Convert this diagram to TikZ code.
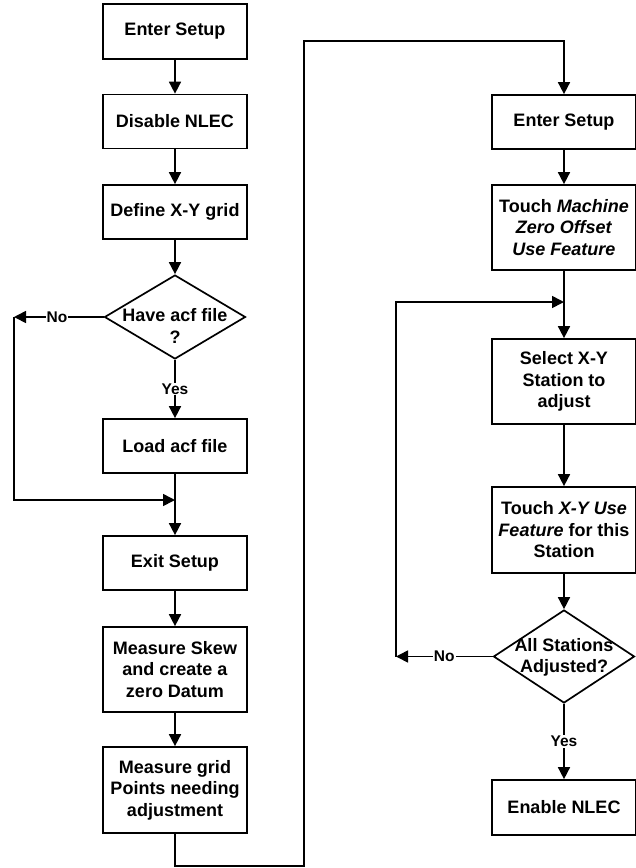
\documentclass[tikz,border=0pt]{standalone}
\usepackage{fontspec}
\setmainfont{Liberation Sans}
\usetikzlibrary{arrows.meta,shapes.geometric}
\begin{document}
\begin{tikzpicture}[x=1pt,y=-1pt,
 box/.style={draw,line width=1.7pt,minimum width=144pt,align=center,inner sep=0pt,font=\fontsize{18}{21.5}\selectfont\bfseries},
 dia/.style={draw,diamond,line width=1.7pt,inner sep=0pt,minimum width=141pt},
 dtext/.style={align=center,inner sep=0pt,font=\fontsize{18}{21.5}\selectfont\bfseries},
 flow/.style={line width=1.6pt,-{Triangle[width=12pt,length=12pt]}},
 conn/.style={line width=1.6pt},
 lbl/.style={fill=white,inner sep=1pt,font=\fontsize{15.5}{17}\selectfont\bfseries}]
\useasboundingbox (0,0) rectangle (636,868);
% left column
\node[box,minimum height=55pt] (e1) at (175,31.5) {Enter Setup};
\node[box,minimum height=54pt] (d1) at (175,121.5) {Disable NLEC};
\node[box,minimum height=54pt] (g1) at (175,212) {Define X-Y grid};
\node[dia,minimum height=84pt] (q1) at (175,317) {};
\node[dtext] (q1t) at (175,326) {Have acf file\\?};
\node[box,minimum height=54pt] (l1) at (175,446) {Load acf file};
\node[box,minimum height=54pt] (x1) at (175,563) {Exit Setup};
\node[box,minimum height=85pt] (m1) at (175,669.5) {Measure Skew\\and create a\\zero Datum};
\node[box,minimum height=86pt] (m2) at (175,790) {Measure grid\\Points needing\\adjustment};
% right column
\node[box,minimum height=54pt] (e2) at (564,122) {Enter Setup};
\node[box,minimum height=85pt] (t1) at (564,227.5) {Touch \textit{Machine}\\\textit{Zero Offset}\\\textit{Use Feature}};
\node[box,minimum height=85pt] (s1) at (564,381.5) {Select X-Y\\Station to\\adjust};
\node[box,minimum height=86pt] (t2) at (564,530) {Touch \textit{X-Y Use}\\\textit{Feature} for this\\Station};
\node[dia,minimum height=93pt] (q2) at (564,656.5) {};
\node[dtext] (q2t) at (564,657.5) {All Stations\\Adjusted?};
\node[box,minimum height=55pt] (en) at (564,807.5) {Enable NLEC};
% coordinates
\coordinate (n1) at (14,317);
\coordinate (j1) at (175,500);
\coordinate (n2) at (396,656.5);
\coordinate (j2) at (564,302);
\coordinate (b1) at (175,866);
\coordinate (b2) at (304,866);
\coordinate (b3) at (304,41);
\coordinate (b4) at (564,41);
% left connectors
\draw[flow] (e1) -- (d1);
\draw[flow] (d1) -- (g1);
\draw[flow] (g1) -- (q1);
\draw[flow] (q1.south) -- node[lbl]{Yes} (l1.north);
\draw[flow] (l1) -- (x1);
\draw[flow] (q1.west) -- node[lbl,pos=0.52]{No} (n1);
\draw[flow] (n1) -- (n1 |- j1) -- (j1);
\draw[flow] (x1) -- (m1);
\draw[flow] (m1) -- (m2);
% long connector
\draw[flow] (m2.south) -- (b1) -- (b2) -- (b3) -- (b4) -- (e2.north);
% right connectors
\draw[flow] (e2) -- (t1);
\draw[flow] (t1.south) -- (s1.north);
\draw[flow] (s1) -- (t2);
\draw[flow] (t2) -- (q2);
\draw[flow] (q2.west) -- node[lbl]{No} (n2);
\draw[flow] (n2) -- (n2 |- j2) -- (j2);
\draw[flow] (q2.south) -- node[lbl]{Yes} (en.north);
\end{tikzpicture}
\end{document}
